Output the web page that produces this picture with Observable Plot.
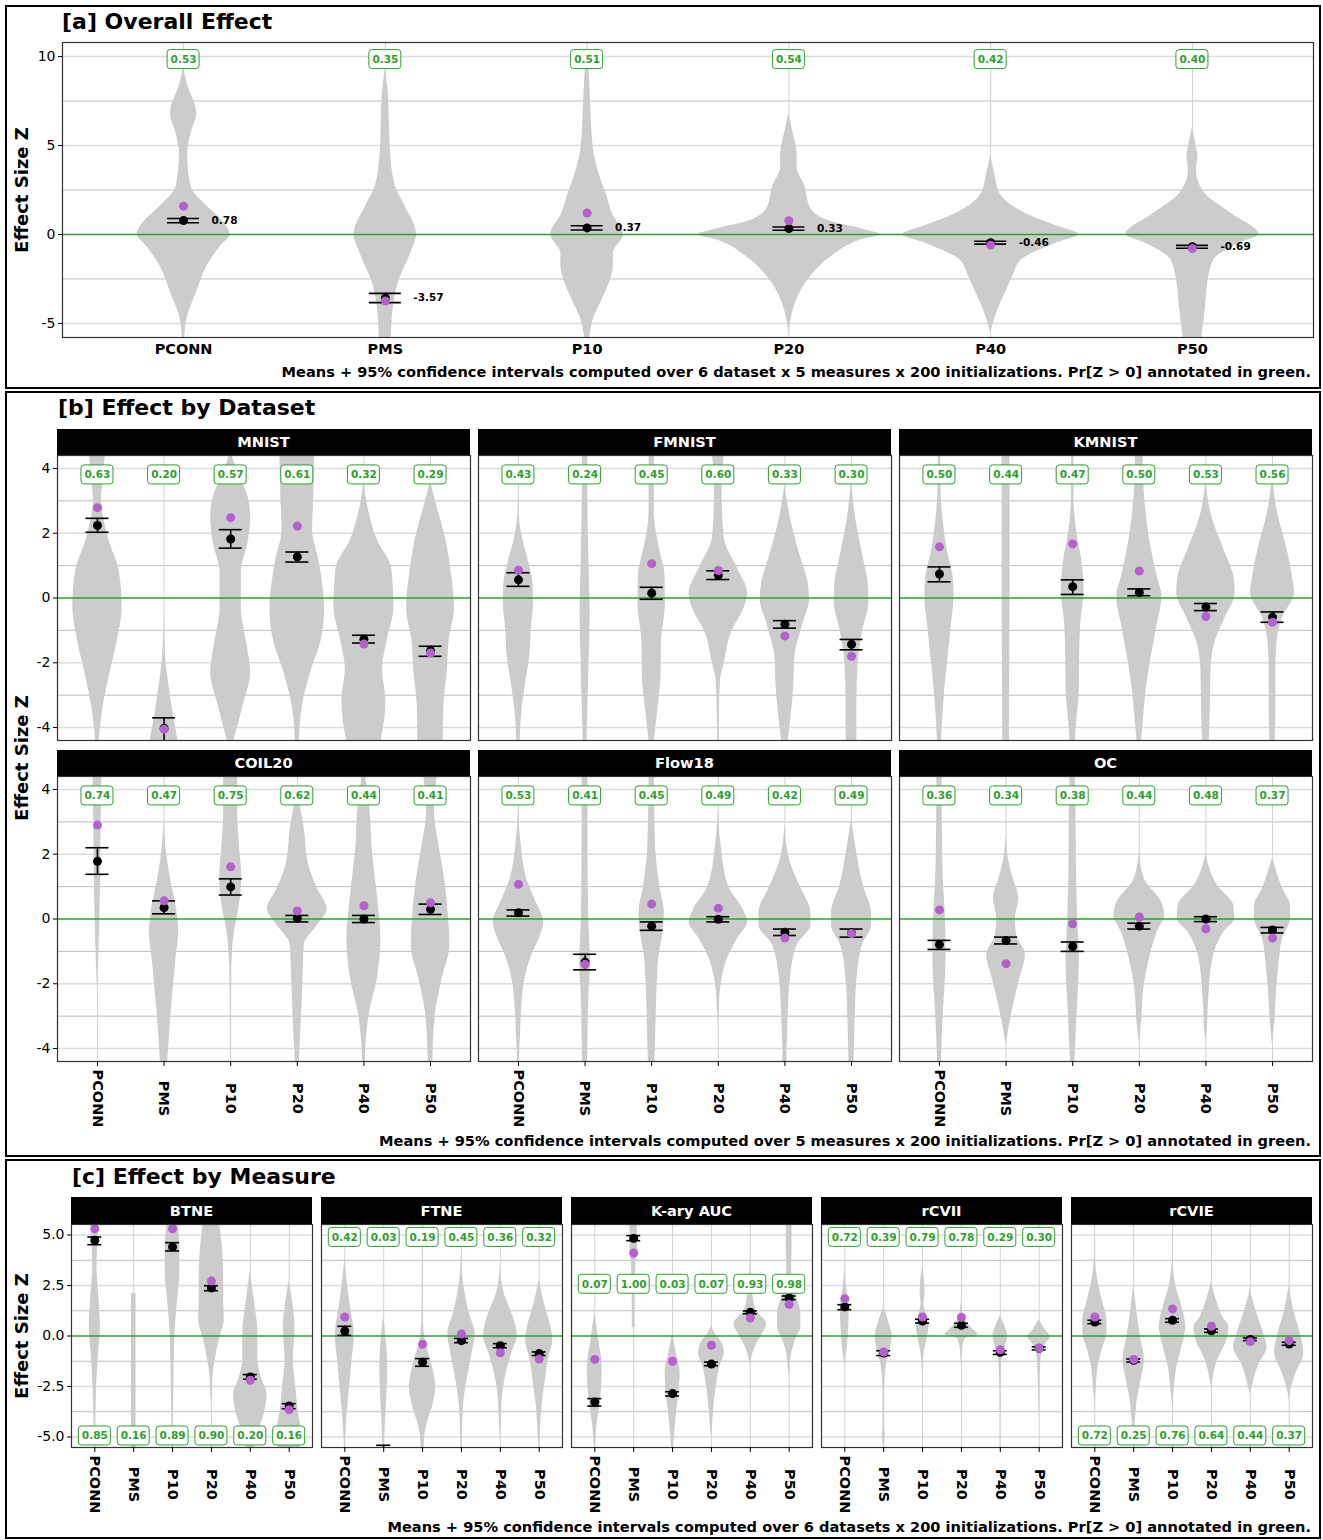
<!DOCTYPE html>
<html><head><meta charset="utf-8">
<script src="https://cdn.jsdelivr.net/npm/d3@7"></script>
<script src="https://cdn.jsdelivr.net/npm/@observablehq/plot@0.6"></script>
<style>
body{margin:0;background:#fff;font-family:"DejaVu Sans",sans-serif;}
#root{position:relative;width:1323px;height:1540px;overflow:hidden;background:#fff;}
.box{position:absolute;border:2px solid #000;box-sizing:border-box;}
.title{position:absolute;font-weight:bold;font-size:22px;white-space:nowrap;line-height:26px;}
.cap{position:absolute;font-weight:bold;font-size:14.6px;white-space:nowrap;line-height:18px;}
.ylab{position:absolute;font-weight:bold;font-size:18px;white-space:nowrap;line-height:22px;transform:translate(-50%,-50%) rotate(-90deg);}
.strip{position:absolute;background:#000;color:#fff;font-weight:bold;font-size:14.6px;text-align:center;}
svg.facet{position:absolute;}
</style></head><body><div id="root"></div><script>
// ---------------- DATA ----------------
const methods = ["PCONN","PMS","P10","P20","P40","P50"];
const datasets = ["MNIST","FMNIST","KMNIST","COIL20","Flow18","OC"];
const measures = ["BTNE","FTNE","K-ary AUC","rCVII","rCVIE"];
const yTicksA = [-5, 0, 5, 10];
const yTicksB = [-4, -2, 0, 2, 4];
const yTicksC = [-5, -2.5, 0, 2.5, 5];

// [a] overall
const meanA = [0.78, -3.57, 0.37, 0.33, -0.46, -0.69];
const loA   = [0.66, -3.83, 0.25, 0.24, -0.54, -0.77];
const hiA   = [0.90, -3.31, 0.49, 0.42, -0.38, -0.61];
const medA  = [1.59, -3.74, 1.21, 0.77, -0.60, -0.79];
const probA = [0.53, 0.35, 0.51, 0.54, 0.42, 0.40];
// violin profiles: [z, half-width in category units]
const violinA = [
  [[9.4,0],[8.5,0.017],[6.8,0.065],[5.7,0.038],[4.5,0.02],[2.7,0.037],[1.55,0.12],[0.8,0.19],[0,0.23],[-0.7,0.18],[-1.8,0.115],[-3.3,0.063],[-4.6,0.02],[-5.79,0.005]],
  [[9.3,0],[7.9,0.015],[4.7,0.025],[2.7,0.05],[1.55,0.1],[0,0.155],[-1.07,0.125],[-2.75,0.063],[-4.25,0.038],[-5.79,0.03]],
  [[10.6,0],[10,0.005],[7.5,0.017],[4.9,0.03],[3.4,0.06],[2.3,0.094],[1.2,0.125],[0,0.18],[-1.07,0.13],[-1.8,0.13],[-2.56,0.115],[-3.7,0.073],[-4.8,0.03],[-5.79,0.012]],
  [[6.8,0],[5.7,0.021],[4.35,0.042],[3.8,0.04],[2.7,0.08],[1.55,0.105],[0.8,0.19],[0.25,0.38],[0,0.45],[-0.3,0.36],[-1.25,0.21],[-2.4,0.105],[-3.7,0.038],[-4.8,0.01],[-5.6,0]],
  [[4.5,0],[3.4,0.02],[2.3,0.046],[1.2,0.17],[0.43,0.34],[0,0.435],[-0.5,0.32],[-1.45,0.15],[-2.2,0.115],[-3.1,0.08],[-4.4,0.03],[-5.55,0]],
  [[6.0,0],[4.9,0.02],[4.35,0.027],[3.6,0.02],[2.3,0.063],[1.2,0.19],[0,0.33],[-0.5,0.23],[-1.45,0.105],[-2.9,0.074],[-4.25,0.063],[-5.79,0.046]]
];

// [b] by dataset (rows follow datasets, columns follow methods)
const meanB = [
  [2.24, -4.02, 1.82, 1.27, -1.27, -1.63],
  [0.56, null, 0.15, 0.70, -0.81, -1.43],
  [0.74, null, 0.35, 0.17, -0.28, -0.59],
  [1.78, 0.35, 0.99, 0.02, 0.00, 0.30],
  [0.19, -1.33, -0.22, -0.01, -0.41, -0.43],
  [-0.79, -0.66, -0.85, -0.22, 0.00, -0.34]
];
const loB = [
  [2.03, -4.50, 1.54, 1.11, -1.39, -1.80],
  [0.36, null, -0.04, 0.57, -0.93, -1.60],
  [0.50, null, 0.11, 0.07, -0.39, -0.75],
  [1.38, 0.16, 0.74, -0.09, -0.11, 0.14],
  [0.09, -1.57, -0.35, -0.09, -0.51, -0.56],
  [-0.94, -0.77, -1.00, -0.31, -0.08, -0.43]
];
const hiB = [
  [2.46, -3.70, 2.11, 1.42, -1.15, -1.49],
  [0.78, null, 0.33, 0.84, -0.70, -1.28],
  [0.96, null, 0.56, 0.28, -0.17, -0.43],
  [2.20, 0.56, 1.24, 0.11, 0.11, 0.46],
  [0.28, -1.09, -0.09, 0.07, -0.31, -0.31],
  [-0.66, -0.56, -0.71, -0.13, 0.07, -0.26]
];
const medB = [
  [2.79, -4.05, 2.48, 2.22, -1.42, -1.70],
  [0.86, null, 1.06, 0.85, -1.17, -1.80],
  [1.58, null, 1.67, 0.83, -0.57, -0.75],
  [2.90, 0.56, 1.61, 0.25, 0.41, 0.50],
  [1.07, -1.40, 0.46, 0.33, -0.59, -0.45],
  [0.28, -1.38, -0.15, 0.06, -0.30, -0.59]
];
const probB = [
  [0.63, 0.20, 0.57, 0.61, 0.32, 0.29],
  [0.43, 0.24, 0.45, 0.60, 0.33, 0.30],
  [0.50, 0.44, 0.47, 0.50, 0.53, 0.56],
  [0.74, 0.47, 0.75, 0.62, 0.44, 0.41],
  [0.53, 0.41, 0.45, 0.49, 0.42, 0.49],
  [0.36, 0.34, 0.38, 0.44, 0.48, 0.37]
];
const violinB = [
  [ // MNIST
    [[4.4,0.12],[3.6,0.08],[3.0,0.06],[2.5,0.09],[1.8,0.17],[0.8,0.33],[-0.3,0.37],[-1.3,0.3],[-2.3,0.19],[-3.3,0.09],[-4.4,0.025]],
    [[-0.5,0],[-1.2,0.008],[-2.0,0.03],[-2.8,0.08],[-3.5,0.13],[-4.4,0.21]],
    [[4.4,0.02],[3.8,0.12],[3.2,0.25],[2.5,0.3],[1.7,0.26],[0.8,0.16],[-0.3,0.16],[-1.5,0.25],[-2.3,0.3],[-3.3,0.19],[-4.4,0.05]],
    [[4.4,0.26],[3.3,0.25],[2.1,0.23],[1.1,0.33],[-0.3,0.41],[-1.3,0.36],[-2.3,0.2],[-3.3,0.08],[-4.4,0.03]],
    [[3.6,0],[2.9,0.05],[1.8,0.2],[0.9,0.42],[-0.3,0.45],[-1.3,0.35],[-2.2,0.28],[-3.2,0.33],[-4.4,0.26]],
    [[3.6,0],[2.8,0.1],[1.8,0.23],[0.8,0.31],[-0.3,0.36],[-1.3,0.28],[-2.3,0.25],[-3.3,0.2],[-4.4,0.19]]
  ],
  [ // FMNIST
    [[3.2,0],[2.5,0.012],[1.8,0.066],[1.1,0.155],[0.4,0.22],[-0.2,0.225],[-1.0,0.19],[-1.8,0.17],[-2.6,0.11],[-3.4,0.057],[-4.4,0.025]],
    [[4.4,0.04],[2.5,0.045],[1.0,0.06],[-0.5,0.075],[-2,0.06],[-3.5,0.04],[-4.4,0.03]],
    [[4.4,0.04],[2.6,0.04],[1.5,0.12],[0.7,0.2],[-0.2,0.205],[-1.4,0.145],[-2.4,0.14],[-3.4,0.094],[-4.4,0.04]],
    [[4.4,0.085],[3.3,0.057],[1.9,0.085],[0.9,0.29],[0.15,0.44],[-0.4,0.37],[-1.0,0.21],[-2.0,0.09],[-2.6,0.03],[-4.4,0.01]],
    [[3.5,0],[2.3,0.1],[1.3,0.23],[0.45,0.35],[-0.05,0.37],[-0.8,0.27],[-1.8,0.15],[-2.8,0.13],[-3.9,0.08],[-4.4,0.05]],
    [[3.6,0],[2.3,0.075],[1.3,0.17],[0.45,0.25],[-0.15,0.26],[-1.0,0.17],[-2.0,0.1],[-3.3,0.08],[-4.4,0.08]]
  ],
  [ // KMNIST
    [[4.4,0.02],[3.2,0.025],[2.3,0.06],[1.5,0.115],[0.65,0.205],[0.05,0.22],[-0.8,0.18],[-1.8,0.13],[-2.8,0.08],[-4.4,0.03]],
    [[4.4,0.06],[2,0.06],[0,0.06],[-2,0.055],[-4.4,0.05]],
    [[4.4,0.015],[3.0,0.02],[2.1,0.057],[1.1,0.14],[0.25,0.17],[-0.8,0.12],[-1.8,0.105],[-2.8,0.1],[-3.9,0.057],[-4.4,0.04]],
    [[4.4,0.057],[3.3,0.074],[1.8,0.155],[0.65,0.27],[0.05,0.34],[-0.8,0.27],[-1.8,0.18],[-2.8,0.105],[-3.9,0.057],[-4.4,0.035]],
    [[3.6,0],[2.5,0.09],[1.5,0.27],[0.65,0.42],[0.15,0.44],[-0.6,0.29],[-1.4,0.13],[-2.3,0.074],[-3.4,0.066],[-4.4,0.05]],
    [[3.7,0],[2.5,0.09],[1.5,0.22],[0.65,0.3],[0.15,0.33],[-0.6,0.15],[-1.4,0.066],[-2.3,0.05],[-3.4,0.05],[-4.4,0.04]]
  ],
  [ // COIL20
    [[4.4,0.065],[3.0,0.055],[2.0,0.05],[1.0,0.045],[0,0.035],[-1.0,0.022],[-1.8,0.008],[-2.1,0]],
    [[3.0,0],[2.1,0.033],[1.25,0.095],[0.4,0.18],[-0.4,0.22],[-1.2,0.18],[-2.3,0.13],[-3.3,0.09],[-4.4,0.055]],
    [[4.4,0.105],[3.3,0.105],[2.3,0.13],[1.3,0.165],[0.4,0.13],[-0.4,0.055],[-1.0,0.025],[-1.9,0.01],[-4.4,0.005]],
    [[3.9,0],[2.8,0.105],[1.8,0.155],[0.95,0.3],[0.3,0.45],[-0.2,0.3],[-0.8,0.105],[-1.9,0.085],[-2.9,0.065],[-4.4,0.03]],
    [[4.4,0.025],[3.3,0.095],[2.3,0.118],[0.75,0.2],[-0.6,0.255],[-1.85,0.2],[-2.9,0.083],[-3.9,0.03],[-4.4,0.02]],
    [[4.4,0.1],[3.3,0.06],[2.3,0.125],[1.25,0.21],[-0.1,0.275],[-0.8,0.29],[-1.85,0.175],[-2.9,0.075],[-4.4,0.035]]
  ],
  [ // Flow18
    [[3.4,0],[2.3,0.04],[1.25,0.123],[0.5,0.27],[-0.1,0.38],[-0.5,0.33],[-1.2,0.185],[-2.05,0.08],[-3.4,0.033],[-4.4,0.015]],
    [[4.4,0.045],[2,0.045],[0,0.055],[-1.3,0.08],[-2.5,0.055],[-4.4,0.04]],
    [[4.4,0.04],[2.3,0.057],[1.0,0.123],[0.2,0.19],[-0.4,0.17],[-1.2,0.107],[-2.5,0.074],[-3.9,0.057],[-4.4,0.05]],
    [[3.4,0],[2.3,0.04],[1.0,0.155],[0.3,0.37],[-0.1,0.44],[-0.6,0.29],[-1.3,0.123],[-2.05,0.04],[-2.9,0.01],[-3.3,0]],
    [[2.9,0],[1.8,0.074],[0.95,0.24],[0.2,0.39],[-0.2,0.39],[-0.8,0.185],[-1.85,0.082],[-2.9,0.05],[-3.9,0.033],[-4.4,0.03]],
    [[3.1,0],[2.0,0.082],[1.0,0.18],[0.2,0.3],[-0.2,0.3],[-0.8,0.164],[-1.85,0.082],[-2.9,0.057],[-4.4,0.04]]
  ],
  [ // OC
    [[4.4,0.04],[2.5,0.045],[1.25,0.057],[0,0.09],[-1,0.1],[-1.8,0.09],[-2.9,0.057],[-4.4,0.03]],
    [[2.6,0],[1.8,0.04],[1.25,0.107],[0.65,0.19],[0,0.14],[-0.5,0.16],[-1.1,0.29],[-1.85,0.205],[-2.7,0.107],[-3.4,0.04],[-3.9,0]],
    [[4.4,0.04],[3.3,0.05],[1.5,0.057],[0,0.075],[-1.3,0.1],[-2.9,0.066],[-4.4,0.033]],
    [[2.1,0],[1.25,0.074],[0.5,0.34],[0.1,0.38],[-0.4,0.27],[-1.2,0.155],[-2.05,0.074],[-3.4,0.025],[-3.8,0]],
    [[2.0,0],[1.05,0.17],[0.4,0.42],[0,0.43],[-0.4,0.27],[-1.2,0.107],[-2.5,0.04],[-3.4,0.02],[-3.8,0]],
    [[1.9,0],[0.95,0.15],[0.4,0.27],[0,0.27],[-0.6,0.15],[-1.2,0.107],[-2.05,0.066],[-3.4,0.025],[-3.9,0]]
  ]
];

// [c] by measure (rows follow measures, columns follow methods)
const meanC = [
  [4.74, null, 4.41, 2.38, -2.03, -3.47],
  [0.25, -5.75, -1.30, -0.23, -0.48, -0.87],
  [-3.27, 4.83, -2.85, -1.39, 1.17, 1.88],
  [1.44, -0.84, 0.74, 0.53, -0.81, -0.61],
  [0.69, -1.20, 0.78, 0.26, -0.17, -0.40]
];
const loC = [
  [4.52, null, 4.21, 2.24, -2.14, -3.60],
  [0.03, -6.00, -1.50, -0.33, -0.58, -0.97],
  [-3.47, 4.72, -2.97, -1.47, 1.10, 1.80],
  [1.30, -0.97, 0.64, 0.43, -0.91, -0.69],
  [0.61, -1.29, 0.68, 0.18, -0.23, -0.46]
];
const hiC = [
  [4.90, null, 4.62, 2.49, -1.91, -3.35],
  [0.48, -5.41, -1.12, -0.12, -0.38, -0.79],
  [-3.10, 4.97, -2.76, -1.29, 1.24, 1.98],
  [1.55, -0.73, 0.83, 0.63, -0.73, -0.54],
  [0.78, -1.14, 0.86, 0.35, -0.10, -0.31]
];
const medC = [
  [5.31, null, 5.31, 2.72, -2.19, -3.65],
  [0.94, null, -0.41, 0.10, -0.83, -1.14],
  [-1.16, 4.11, -1.25, -0.46, 0.89, 1.57],
  [1.85, -0.79, 0.94, 0.92, -0.68, -0.61],
  [0.94, -1.16, 1.34, 0.48, -0.28, -0.23]
];
const probC = [
  [0.85, 0.16, 0.89, 0.90, 0.20, 0.16],
  [0.42, 0.03, 0.19, 0.45, 0.36, 0.32],
  [0.07, 1.00, 0.03, 0.07, 0.93, 0.98],
  [0.72, 0.39, 0.79, 0.78, 0.29, 0.30],
  [0.72, 0.25, 0.76, 0.64, 0.44, 0.37]
];
const violinC = [
  [ // BTNE
    [[5.55,0.1],[4.4,0.07],[3.4,0.056],[1.8,0.11],[0.45,0.144],[-0.9,0.093],[-2.5,0.046],[-4.2,0.02],[-5.55,0.01]],
    [[2.1,0.06],[-5.55,0.06]],
    [[5.55,0.14],[4.4,0.186],[3.1,0.186],[1.8,0.13],[0.45,0.07],[-0.9,0.046],[-2.85,0.028],[-5.55,0.01]],
    [[5.55,0.21],[4.4,0.28],[3.1,0.315],[1.8,0.315],[0.8,0.33],[-0.2,0.2],[-1.05,0.11],[-1.85,0.046],[-2.85,0.02],[-3.3,0]],
    [[3.2,0],[1.8,0.1],[0.1,0.195],[-1.2,0.195],[-2.2,0.31],[-2.85,0.43],[-3.85,0.36],[-4.85,0.186],[-5.55,0.1]],
    [[2.7,0],[1.8,0.08],[0.45,0.15],[-1.2,0.107],[-2.5,0.17],[-3.85,0.24],[-4.85,0.325],[-5.55,0.27]]
  ],
  [ // FTNE
    [[3.8,0],[2.45,0.074],[1.27,0.16],[0,0.245],[-1.2,0.186],[-2.5,0.125],[-3.85,0.06],[-5.3,0.014],[-5.55,0.01]],
    [[1.0,0],[-0.2,0.065],[-1.5,0.1],[-2.85,0.083],[-4.2,0.046],[-5.55,0.02]],
    [[5.55,0.005],[1.0,0.015],[-0.2,0.07],[-1.2,0.21],[-2.5,0.34],[-3.5,0.255],[-4.5,0.093],[-5.55,0.037]],
    [[4.0,0],[2.45,0.065],[1.1,0.21],[0.1,0.35],[-0.7,0.29],[-1.85,0.176],[-3.2,0.065],[-4.5,0.028],[-5.55,0.015]],
    [[3.5,0],[2.1,0.1],[0.95,0.33],[0,0.435],[-0.87,0.29],[-1.85,0.15],[-3.2,0.046],[-4.5,0.02],[-5.0,0]],
    [[2.8,0],[1.8,0.107],[0.8,0.255],[-0.2,0.35],[-1.2,0.23],[-2.2,0.16],[-3.5,0.07],[-4.85,0.028],[-5.55,0.01]]
  ],
  [ // K-ary AUC
    [[1.2,0],[-0.2,0.1],[-1.5,0.19],[-2.5,0.176],[-3.5,0.125],[-4.5,0.05],[-5.2,0.025],[-5.55,0]],
    [[5.55,0.09],[4.4,0.1],[3.75,0.063],[2.1,0.038],[0.45,0.035],[0.4,0]],
    [[0.1,0],[-0.87,0.1],[-1.85,0.195],[-2.85,0.163],[-3.85,0.1],[-4.85,0.05],[-5.55,0.025]],
    [[0.5,0],[0.1,0.1],[-0.3,0.26],[-0.85,0.33],[-1.5,0.22],[-2.5,0.125],[-3.5,0.063],[-4.5,0.025],[-5.0,0]],
    [[3.8,0],[2.1,0.063],[1.27,0.15],[0.6,0.42],[0.1,0.31],[-0.55,0.125],[-1.2,0.025],[-1.5,0]],
    [[5.55,0.075],[4.4,0.075],[3.25,0.063],[2.1,0.163],[1.1,0.3],[0.45,0.3],[-0.2,0.163],[-0.87,0.063],[-1.55,0.025],[-2.0,0]]
  ],
  [ // rCVII
    [[3.3,0],[2.1,0.063],[1.3,0.113],[0.45,0.1],[-0.55,0.063],[-1.2,0.02],[-1.5,0]],
    [[1.4,0],[0.5,0.163],[0,0.22],[-0.7,0.163],[-1.5,0.063],[-2.85,0.02],[-4.5,0.02],[-4.9,0.04],[-5.3,0.02],[-5.55,0]],
    [[3.5,0],[2.1,0.063],[1.6,0.038],[0.95,0.107],[0.45,0.163],[-0.2,0.107],[-0.87,0.038],[-1.55,0.012],[-1.9,0]],
    [[1.7,0],[0.8,0.1],[0.3,0.31],[0.08,0.43],[-0.13,0.1],[-0.55,0.038],[-1.2,0.01],[-1.5,0]],
    [[1.0,0],[0.45,0.125],[0,0.19],[-0.55,0.125],[-1.2,0.038],[-2.85,0.012],[-5.55,0.005]],
    [[0.8,0],[0.3,0.163],[-0.05,0.29],[-0.4,0.163],[-0.87,0.063],[-2.0,0.025],[-3.2,0.012],[-4.0,0]]
  ],
  [ // rCVIE
    [[4.1,0],[2.9,0.063],[1.77,0.19],[0.8,0.31],[0.1,0.31],[-0.55,0.21],[-1.5,0.088],[-2.85,0.025],[-3.3,0]],
    [[2.5,0],[1.1,0.088],[-0.2,0.19],[-1.2,0.276],[-2.0,0.21],[-3.2,0.088],[-4.5,0.025],[-4.8,0]],
    [[4.0,0],[2.45,0.088],[1.45,0.24],[0.45,0.34],[-0.55,0.24],[-1.5,0.113],[-2.5,0.05],[-3.2,0.015],[-3.5,0]],
    [[2.7,0],[1.6,0.157],[0.9,0.3],[0.45,0.45],[-0.2,0.4],[-1.2,0.157],[-2.2,0.03],[-2.6,0]],
    [[2.3,0],[1.27,0.145],[0.1,0.345],[-0.55,0.43],[-1.5,0.2],[-2.5,0.05],[-2.9,0]],
    [[2.5,0],[1.1,0.138],[-0.05,0.31],[-0.87,0.376],[-1.85,0.176],[-2.85,0.025],[-3.2,0]]
  ]
];

// ---------------- LAYOUT / STYLE ----------------
const root = document.getElementById("root");
const GREEN = "#2ca02c", VIOLIN = "#cccccc", PURPLE = "#b65fcf";
const idx = methods.map((_, i) => i);

function el(cls, text, css) {
  const d = document.createElement("div");
  d.className = cls; d.textContent = text;
  Object.assign(d.style, css);
  root.appendChild(d); return d;
}

function facet(o) {
  const mL = o.showY ? 60 : 2, mR = 2, mT = 2, mB = o.showX ? 90 : 2;
  const ppx = o.fw / 6.2, ppy = o.fh / (o.yDomain[1] - o.yDomain[0]);
  const vdata = o.violins.flatMap((v, i) => v.map(([y, w]) => ({i, y, w})));
  const stats = idx.map(i => ({i, mean: o.mean[i], lo: o.lo[i], hi: o.hi[i], med: o.med[i], prob: o.prob[i]}));
  const st = stats.filter(d => d.mean != null);
  const md = stats.filter(d => d.med != null);
  const cap = o.capPx / ppx, bw = 16 / ppx, bh = 9.5 / ppy;
  const py = o.probY;
  const marks = [
    Plot.ruleY(o.gridMajor, {stroke: "#dcdcdc", strokeWidth: 1.4}),
    Plot.ruleY(o.gridMinor, {stroke: "#bdbdbd", strokeWidth: 1}),
    Plot.ruleX(idx, {stroke: "#d2d2d2", strokeWidth: 1}),
    Plot.areaX(vdata, {y: "y", x1: d => d.i - d.w, x2: d => d.i + d.w, z: "i", fill: VIOLIN, curve: "monotone-y", clip: true}),
    Plot.ruleY([0], {stroke: GREEN, strokeWidth: 1.5}),
    Plot.ruleX(st, {x: "i", y1: "lo", y2: "hi", stroke: "black", strokeWidth: 1.6, clip: true}),
    Plot.ruleY(st, {y: "lo", x1: d => d.i - cap, x2: d => d.i + cap, stroke: "black", strokeWidth: 1.6, clip: true}),
    Plot.ruleY(st, {y: "hi", x1: d => d.i - cap, x2: d => d.i + cap, stroke: "black", strokeWidth: 1.6, clip: true}),
    Plot.dot(st, {x: "i", y: "mean", r: 4.5, fill: "black", clip: true}),
    Plot.dot(md, {x: "i", y: "med", r: 4.5, fill: PURPLE, clip: true}),
    Plot.rect(stats, {x1: d => d.i - bw, x2: d => d.i + bw, y1: () => py - bh, y2: () => py + bh, fill: "white", stroke: GREEN, strokeWidth: 1, rx: 3}),
    Plot.text(stats, {x: "i", y: () => py, text: d => d.prob.toFixed(2), fill: GREEN, fontWeight: "bold", fontSize: 10.5}),
    Plot.frame({stroke: "#333", strokeWidth: 1.2})
  ];
  if (o.meanLabels) {
    marks.push(Plot.text(st, {x: "i", y: "mean", text: d => d.mean.toFixed(2), dx: 28, textAnchor: "start", fontWeight: "bold", fontSize: 10.5}));
  }
  if (o.showY) {
    marks.push(Plot.axisY({ticks: o.yTicks, tickFormat: o.yFmt, tickSize: 4, tickPadding: 3, fontSize: 14, label: null}));
  }
  if (o.showX === "flat") {
    marks.push(Plot.axisX({ticks: idx, tickFormat: i => methods[i], tickSize: 0, tickPadding: 6, fontSize: 14.5, fontWeight: "bold", label: null}));
  } else if (o.showX) {
    marks.push(Plot.axisX({ticks: idx, tickFormat: () => "", tickSize: 5, label: null}));
    marks.push(Plot.text(idx, {x: d => d, text: d => methods[d], frameAnchor: "bottom", dy: 37, rotate: 90, textAnchor: "middle", lineAnchor: "middle", fontWeight: "bold", fontSize: 14.5}));
  }
  const svg = Plot.plot({
    width: o.fw + mL + mR, height: o.fh + mT + mB,
    marginLeft: mL, marginRight: mR, marginTop: mT, marginBottom: mB,
    x: {domain: [-0.6, 5.6], axis: null},
    y: {domain: o.yDomain, axis: null},
    style: {fontFamily: "DejaVu Sans", fontSize: "14px", background: "transparent", overflow: "visible", color: "black"},
    marks
  });
  svg.classList.add("facet");
  svg.style.left = (o.left - mL) + "px";
  svg.style.top = (o.top - mT) + "px";
  root.appendChild(svg);
}

// boxes
el("box", "", {left: "5px", top: "5px", width: "1316px", height: "384px"});
el("box", "", {left: "5px", top: "391px", width: "1316px", height: "766px"});
el("box", "", {left: "5px", top: "1159px", width: "1316px", height: "380px"});

// titles
el("title", "[a] Overall Effect", {left: "62px", top: "9px"});
el("title", "[b] Effect by Dataset", {left: "58px", top: "395px"});
el("title", "[c] Effect by Measure", {left: "72px", top: "1164px"});

// y labels
el("ylab", "Effect Size Z", {left: "22px", top: "190px"});
el("ylab", "Effect Size Z", {left: "22px", top: "758px"});
el("ylab", "Effect Size Z", {left: "22px", top: "1336px"});

// captions
el("cap", "Means + 95% confidence intervals computed over 6 dataset x 5 measures x 200 initializations. Pr[Z > 0] annotated in green.", {right: "12px", top: "363px"});
el("cap", "Means + 95% confidence intervals computed over 5 measures x 200 initializations. Pr[Z > 0] annotated in green.", {right: "12px", top: "1132px"});
el("cap", "Means + 95% confidence intervals computed over 6 datasets x 200 initializations. Pr[Z > 0] annotated in green.", {right: "12px", top: "1518px"});

// [a]
facet({
  left: 62, top: 42, fw: 1251, fh: 295, yDomain: [-5.79, 10.79],
  gridMajor: [-5, 5, 10], gridMinor: [-2.5, 2.5, 7.5],
  yTicks: yTicksA, yFmt: d => String(d),
  violins: violinA, mean: meanA, lo: loA, hi: hiA, med: medA, prob: probA,
  probY: 9.83, capPx: 16, showY: true, showX: "flat", meanLabels: true
});

// [b]
const bLeft = [57, 478, 899], bTop = [455, 776], bStrip = [429, 750];
datasets.forEach((name, k) => {
  const c = k % 3, r = Math.floor(k / 3);
  el("strip", name, {left: bLeft[c] + "px", top: bStrip[r] + "px", width: "413px", height: "26px", lineHeight: "26px"});
  facet({
    left: bLeft[c], top: bTop[r], fw: 413, fh: 285, yDomain: [-4.4, 4.4],
    gridMajor: [-4, -2, 2, 4], gridMinor: [-3, -1, 1, 3],
    yTicks: yTicksB, yFmt: d => String(d),
    violins: violinB[k], mean: meanB[k], lo: loB[k], hi: hiB[k], med: medB[k], prob: probB[k],
    probY: 3.8, capPx: 11.5, showY: c === 0, showX: r === 1, meanLabels: false
  });
});

// [c]
const cLeft = [71, 321, 571, 821, 1071];
const probLabelYC = [-4.95, 4.88, 2.56, 4.88, -4.95];
measures.forEach((name, k) => {
  el("strip", name, {left: cLeft[k] + "px", top: "1197px", width: "241px", height: "27px", lineHeight: "27px"});
  facet({
    left: cLeft[k], top: 1224, fw: 241, fh: 223, yDomain: [-5.52, 5.52],
    gridMajor: [-5, -2.5, 2.5, 5], gridMinor: [-3.75, -1.25, 1.25, 3.75],
    yTicks: yTicksC, yFmt: d => d.toFixed(1),
    violins: violinC[k], mean: meanC[k], lo: loC[k], hi: hiC[k], med: medC[k], prob: probC[k],
    probY: probLabelYC[k], capPx: 7, showY: k === 0, showX: true, meanLabels: false
  });
});
</script></body></html>
